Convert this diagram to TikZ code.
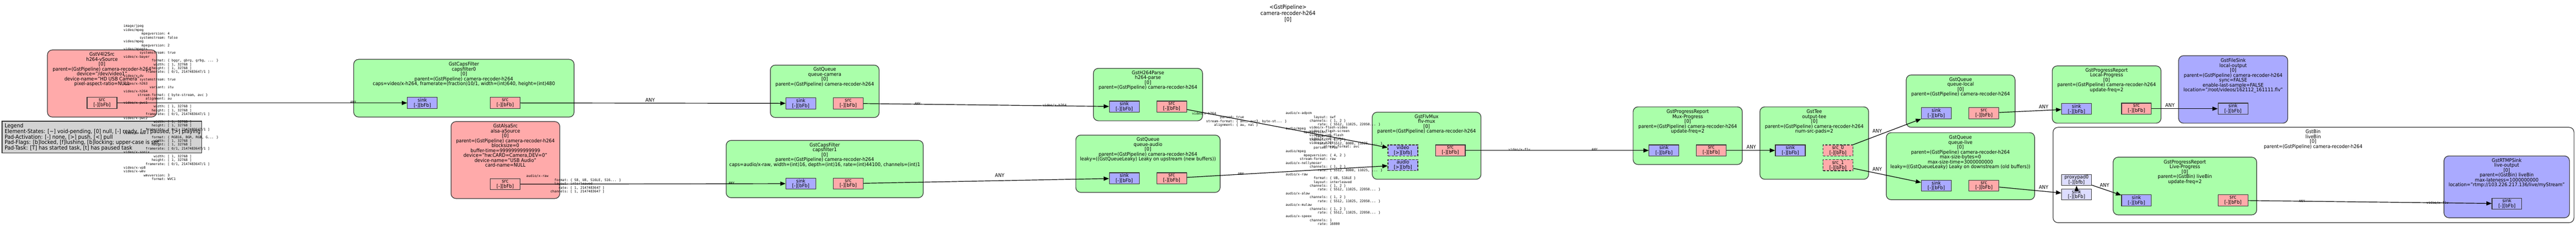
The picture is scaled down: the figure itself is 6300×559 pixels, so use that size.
\documentclass[tikz,border=0pt]{standalone}
\usepackage{fontspec}
\setmainfont[FakeStretch=0.92]{DejaVu Sans}
\newfontfamily\capsmono{DejaVu Sans Mono}
\usetikzlibrary{fit,arrows.meta}

\definecolor{srcfill}{HTML}{FFAAAA}
\definecolor{midfill}{HTML}{AAFFAA}
\definecolor{sinkfill}{HTML}{AAAAFF}
\definecolor{ghostfill}{HTML}{DDDDFF}
\definecolor{legendfill}{HTML}{D3D3D3}

\newcommand{\elemfont}{\fontsize{6.9}{6.83}\selectfont\lineskiplimit=-5pt}
\newcommand{\padfont}{\fontsize{6.9}{7.1}\selectfont\lineskiplimit=-5pt}
\newcommand{\capsfont}{\capsmono\fontsize{4.63}{5.32}\selectfont\lineskiplimit=-5pt}
\newcommand{\titlefont}{\fontsize{7.7}{8.5}\selectfont\lineskiplimit=-5pt}
\newcommand{\legendfont}{\fontsize{7.7}{7.6}\selectfont\lineskiplimit=-5pt}
% one caps field: name right-aligned in 20 columns
\newcommand{\capf}[2]{\makebox[12.04em][r]{#1}:\ #2}

\begin{document}
\begin{tikzpicture}[x=0.02cm, y=-0.02cm,
    element/.style={draw=black!80, line width=0.03cm, rounded corners=0.24cm, inner sep=0},
    pad/.style={draw=black!80, line width=0.03cm, minimum width=1.46cm, minimum height=0.54cm,
      inner sep=0, align=center, font=\padfont},
    srcpad/.style={pad, fill=srcfill},
    sinkpad/.style={pad, fill=sinkfill},
    ghostpad/.style={pad, fill=ghostfill},
    reqpad/.style={dash pattern=on 0.12cm off 0.06cm},
    elabel/.style={font=\elemfont, align=center, inner sep=0, anchor=north},
    capsblock/.style={font=\capsfont, align=left, inner sep=0, anchor=north west},
    capslbl/.style={font=\capsfont, inner sep=0},
    anylbl/.style={font=\elemfont, inner sep=0},
    edge/.style={line width=0.03cm, -{Triangle[length=0.26cm, width=0.2cm]}}]
  \useasboundingbox (0,0) rectangle (6300,559);

  \node[font=\titlefont, align=center, inner sep=0, anchor=north] (title) at (3150,11.2)
    {<GstPipeline>\\camera-recoder-h264\\{}[0]};

  % legend
  \node[draw=black!80, line width=0.03cm, fill=legendfill, inner sep=0, fit={(5,296) (493,374)}] (legend) {};
  \node[font=\legendfont, align=left, inner sep=0, anchor=north west] (legendtxt) at (11,301.8)
    {Legend\\Element-States: [\textasciitilde] void-pending, [0] null, [-] ready, [=] paused, [>] playing\\Pad-Activation: [-] none, [>] push, [<] pull\\Pad-Flags: [b]locked, [f]lushing, [b]locking; upper-case is set\\Pad-Task: [T] has started task, [t] has paused task};

  % element boxes
  \node[element, fill=srcfill, fit={(116,122) (383,286)}] (v4l2) {};
  \node[element, fill=midfill, fit={(865,145) (1404,286)}] (capsf0) {};
  \node[element, fill=srcfill, fit={(1103,297) (1369,485)}] (alsa) {};
  \node[element, fill=midfill, fit={(1884,159) (2150,287)}] (qcamera) {};
  \node[element, fill=midfill, fit={(1776,343) (2258,483)}] (capsf1) {};
  \node[element, fill=midfill, fit={(2674,167) (2941,295)}] (parse) {};
  \node[element, fill=midfill, fit={(2631,330) (2984,470)}] (qaudio) {};
  \node[element, fill=midfill, fit={(3356,274) (3622,438)}] (flvmux) {};
  \node[element, fill=midfill, fit={(3994,261) (4261,402)}] (muxprog) {};
  \node[element, fill=midfill, fit={(4304,261) (4570,438)}] (tee) {};
  \node[element, fill=midfill, fit={(4662,183) (4928,311)}] (qlocal) {};
  \node[element, fill=midfill, fit={(4613,324) (4976,488)}] (qlive) {};
  \node[element, fill=midfill, fit={(5019,161) (5285,301)}] (localprog) {};
  \node[element, fill=sinkfill, fit={(5328,136) (5595,301)}] (localout) {};
  \node[element, fill=white, fit={(5021,311) (6295,544)}] (livebin) {};
  \node[element, fill=midfill, fit={(5168,384) (5519,525)}] (liveprog) {};
  \node[element, fill=sinkfill, fit={(5977,381) (6284,532)}] (liveout) {};

  % element texts
  \node[elabel] (v4l2lbl) at (249.5,127.3) {GstV4l2Src\\h264-vSource\\{}[0]\\parent=(GstPipeline) camera-recoder-h264\\device="/dev/video1"\\device-name="HD USB Camera"\\pixel-aspect-ratio=NULL};
  \node[elabel] (capsf0lbl) at (1134.5,151.3) {GstCapsFilter\\capsfilter0\\{}[0]\\parent=(GstPipeline) camera-recoder-h264\\caps=video/x-h264, framerate=(fraction)10/1, width=(int)640, height=(int)480};
  \node[elabel] (alsalbl) at (1236,302.3) {GstAlsaSrc\\alsa-aSource\\{}[0]\\parent=(GstPipeline) camera-recoder-h264\\blocksize=0\\buffer-time=99999999999999\\device="hw:CARD=Camera,DEV=0"\\device-name="USB Audio"\\card-name=NULL};
  \node[elabel] (qcameralbl) at (2017,164.3) {GstQueue\\queue-camera\\{}[0]\\parent=(GstPipeline) camera-recoder-h264};
  \node[elabel] (capsf1lbl) at (2017,348.3) {GstCapsFilter\\capsfilter1\\{}[0]\\parent=(GstPipeline) camera-recoder-h264\\caps=audio/x-raw, width=(int)16, depth=(int)16, rate=(int)44100, channels=(int)1};
  \node[elabel] (parselbl) at (2807.5,172.3) {GstH264Parse\\h264-parse\\{}[0]\\parent=(GstPipeline) camera-recoder-h264};
  \node[elabel] (qaudiolbl) at (2807.5,335.3) {GstQueue\\queue-audio\\{}[0]\\parent=(GstPipeline) camera-recoder-h264\\leaky=((GstQueueLeaky) Leaky on upstream (new buffers))};
  \node[elabel] (flvmuxlbl) at (3489,279.3) {GstFlvMux\\flv-mux\\{}[0]\\parent=(GstPipeline) camera-recoder-h264};
  \node[elabel] (muxproglbl) at (4127.5,267.3) {GstProgressReport\\Mux-Progress\\{}[0]\\parent=(GstPipeline) camera-recoder-h264\\update-freq=2};
  \node[elabel] (teelbl) at (4437,267.3) {GstTee\\output-tee\\{}[0]\\parent=(GstPipeline) camera-recoder-h264\\num-src-pads=2};
  \node[elabel] (qlocallbl) at (4795,188.9) {GstQueue\\queue-local\\{}[0]\\parent=(GstPipeline) camera-recoder-h264};
  \node[elabel] (qlivelbl) at (4794.5,330.3) {GstQueue\\queue-live\\{}[0]\\parent=(GstPipeline) camera-recoder-h264\\max-size-bytes=0\\max-size-time=3000000000\\leaky=((GstQueueLeaky) Leaky on downstream (old buffers))};
  \node[elabel] (localproglbl) at (5152,166.3) {GstProgressReport\\Local-Progress\\{}[0]\\parent=(GstPipeline) camera-recoder-h264\\update-freq=2};
  \node[elabel] (localoutlbl) at (5461.5,142.3) {GstFileSink\\local-output\\{}[0]\\parent=(GstPipeline) camera-recoder-h264\\sync=FALSE\\enable-last-sample=FALSE\\location="/root/videos/162112\_161111.flv"};
  \node[elabel] (livebinlbl) at (5657,316.3) {GstBin\\liveBin\\{}[0]\\parent=(GstPipeline) camera-recoder-h264};
  \node[elabel] (liveproglbl) at (5343.5,390.3) {GstProgressReport\\Live-Progress\\{}[0]\\parent=(GstBin) liveBin\\update-freq=2};
  \node[elabel] (liveoutlbl) at (6130.5,386.3) {GstRTMPSink\\live-output\\{}[0]\\parent=(GstBin) liveBin\\max-lateness=1000000000\\location="rtmp://103.226.217.136/live/myStream"};

  % pads
  \node[srcpad] (v4l2src) at (249.5,251.5) {src\\{}[-][bFb]};
  \node[sinkpad] (capsf0sink) at (1033,251.5) {sink\\{}[-][bFb]};
  \node[srcpad] (capsf0src) at (1235.5,251.5) {src\\{}[-][bFb]};
  \node[srcpad] (alsasrc) at (1235.5,450) {src\\{}[-][bFb]};
  \node[sinkpad] (qcamerasink) at (1958.5,252.5) {sink\\{}[-][bFb]};
  \node[srcpad] (qcamerasrc) at (2074.5,252.5) {src\\{}[-][bFb]};
  \node[sinkpad] (capsf1sink) at (1958.5,448.5) {sink\\{}[-][bFb]};
  \node[srcpad] (capsf1src) at (2074.5,448.5) {src\\{}[-][bFb]};
  \node[sinkpad] (parsesink) at (2749.5,260.5) {sink\\{}[-][bFb]};
  \node[srcpad] (parsesrc) at (2865.5,260.5) {src\\{}[-][bFb]};
  \node[sinkpad] (qaudiosink) at (2749.5,435.5) {sink\\{}[-][bFb]};
  \node[srcpad] (qaudiosrc) at (2865.5,435.5) {src\\{}[-][bFb]};
  \node[sinkpad, reqpad] (flvvideo) at (3431,367.5) {video\\{}[>][bfb]};
  \node[sinkpad, reqpad] (flvaudio) at (3431,403) {audio\\{}[>][bfb]};
  \node[srcpad] (flvsrc) at (3547,367.5) {src\\{}[-][bFb]};
  \node[sinkpad] (muxprogsink) at (4069.5,367.5) {sink\\{}[-][bFb]};
  \node[srcpad] (muxprogsrc) at (4185,367.5) {src\\{}[-][bFb]};
  \node[sinkpad] (teesink) at (4378.5,367.5) {sink\\{}[-][bFb]};
  \node[srcpad, reqpad] (teesrc0) at (4495,367.5) {src\_0\\{}[-][bFb]};
  \node[srcpad, reqpad] (teesrc1) at (4495,403.5) {src\_1\\{}[-][bFb]};
  \node[sinkpad] (qlocalsink) at (4735.5,276.5) {sink\\{}[-][bFb]};
  \node[srcpad] (qlocalsrc) at (4852,276.5) {src\\{}[-][bFb]};
  \node[sinkpad] (qlivesink) at (4735.5,453.5) {sink\\{}[-][bFb]};
  \node[srcpad] (qlivesrc) at (4852,453.5) {src\\{}[-][bFb]};
  \node[sinkpad] (localprogsink) at (5078.5,266) {sink\\{}[-][bFb]};
  \node[srcpad] (localprogsrc) at (5225,265.5) {src\\{}[-][bFb]};
  \node[sinkpad] (localoutsink) at (5461,265.5) {sink\\{}[-][bFb]};
  \node[ghostpad] (binproxy) at (5078.5,439.5) {proxypad0\\{}[-][bfb]};
  \node[ghostpad] (binsink) at (5078.5,475) {sink\\{}[-][bFb]};
  \node[sinkpad] (liveprogsink) at (5225,489.5) {sink\\{}[-][bFb]};
  \node[srcpad] (liveprogsrc) at (5461,489.5) {src\\{}[-][bFb]};
  \node[sinkpad] (liveoutsink) at (6131,497.5) {sink\\{}[-][bFb]};

  % links
  \draw[edge] (v4l2src) -- (capsf0sink);
  \draw[edge] (capsf0src) -- (qcamerasink);
  \draw[edge] (qcamerasrc) -- (parsesink);
  \draw[edge] (parsesrc) -- (flvvideo);
  \draw[edge] (alsasrc) -- (capsf1sink);
  \draw[edge] (capsf1src) -- (qaudiosink);
  \draw[edge] (qaudiosrc) -- (flvaudio);
  \draw[edge] (flvsrc) -- (muxprogsink);
  \draw[edge] (muxprogsrc) -- (teesink);
  \draw[edge] (teesrc0) -- (qlocalsink);
  \draw[edge] (teesrc1) -- (qlivesink);
  \draw[edge] (qlocalsrc) -- (localprogsink);
  \draw[edge] (localprogsrc) -- (localoutsink);
  \draw[edge] (qlivesrc) -- (binsink);
  \draw[edge] (binsink) -- (binproxy);
  \draw[edge] (binproxy) -- (liveprogsink);
  \draw[edge] (liveprogsrc) -- (liveoutsink);

  % caps
  \node[capsblock] (v4l2caps) at (302,60.2) {image/jpeg\\video/mpeg\\\capf{mpegversion}{4}\\\capf{systemstream}{false}\\video/mpeg\\\capf{mpegversion}{2}\\video/mpegts\\\capf{systemstream}{true}\\video/x-bayer\\\capf{format}{\{ bggr, gbrg, grbg, ... \}}\\\capf{width}{[ 1, 32768 ]}\\\capf{height}{[ 1, 32768 ]}\\\capf{framerate}{[ 0/1, 2147483647/1 ]}\\video/x-dv\\\capf{systemstream}{true}\\video/x-h263\\\capf{variant}{itu}\\video/x-h264\\\capf{stream-format}{\{ byte-stream, avc \}}\\\capf{alignment}{au}\\video/x-pwc1\\\capf{width}{[ 1, 32768 ]}\\\capf{height}{[ 1, 32768 ]}\\\capf{framerate}{[ 0/1, 2147483647/1 ]}\\video/x-pwc2\\\capf{width}{[ 1, 32768 ]}\\\capf{height}{[ 1, 32768 ]}\\\capf{framerate}{[ 0/1, 2147483647/1 ]}\\video/x-raw\\\capf{format}{\{ RGB16, BGR, RGB, G... \}}\\\capf{width}{[ 1, 32768 ]}\\\capf{height}{[ 1, 32768 ]}\\\capf{framerate}{[ 0/1, 2147483647/1 ]}\\video/x-sonix\\\capf{width}{[ 1, 32768 ]}\\\capf{height}{[ 1, 32768 ]}\\\capf{framerate}{[ 0/1, 2147483647/1 ]}\\video/x-vp8\\video/x-wmv\\\capf{wmvversion}{3}\\\capf{format}{WVC1}};
  \node[capsblock] (alsacaps) at (1287,426.7) {audio/x-raw\\\capf{format}{\{ S8, U8, S16LE, S16... \}}\\\capf{layout}{interleaved}\\\capf{rate}{[ 1, 2147483647 ]}\\\capf{channels}{[ 1, 2147483647 ]}};
  \node[capsblock] (parsecaps) at (2915,273.7) {video/x-h264\\\capf{parsed}{true}\\\capf{stream-format}{\{ avc, avc3, byte-st... \}}\\\capf{alignment}{\{ au, nal \}}};
  \node[capsblock] (flvvideocaps) at (3202,307.7) {video/x-flash-video\\video/x-flash-screen\\video/x-vp6-flash\\video/x-vp6-alpha\\video/x-h264\\\capf{stream-format}{avc}};
  \node[capsblock] (flvaudiocaps) at (3144,272.7) {audio/x-adpcm\\\capf{layout}{swf}\\\capf{channels}{\{ 1, 2 \}}\\\capf{rate}{\{ 5512, 11025, 22050... \}}\\audio/mpeg\\\capf{mpegversion}{1}\\\capf{layer}{3}\\\capf{channels}{\{ 1, 2 \}}\\\capf{rate}{\{ 5512, 8000, 11025, ... \}}\\\capf{parsed}{true}\\audio/mpeg\\\capf{mpegversion}{\{ 4, 2 \}}\\\capf{stream-format}{raw}\\audio/x-nellymoser\\\capf{channels}{\{ 1, 2 \}}\\\capf{rate}{\{ 5512, 8000, 11025, ... \}}\\audio/x-raw\\\capf{format}{\{ U8, S16LE \}}\\\capf{layout}{interleaved}\\\capf{channels}{\{ 1, 2 \}}\\\capf{rate}{\{ 5512, 11025, 22050... \}}\\audio/x-alaw\\\capf{channels}{\{ 1, 2 \}}\\\capf{rate}{\{ 5512, 11025, 22050... \}}\\audio/x-mulaw\\\capf{channels}{\{ 1, 2 \}}\\\capf{rate}{\{ 5512, 11025, 22050... \}}\\audio/x-speex\\\capf{channels}{1}\\\capf{rate}{16000}};

  \node[capslbl] (any1) at (864,249.5) {ANY};
  \node[capslbl] (any2) at (2244,253) {ANY};
  \node[capslbl] (h264lbl) at (2579,257) {video/x-h264};
  \node[capslbl] (any3) at (1789,448) {ANY};
  \node[capslbl] (any4) at (3035,425) {ANY};
  \node[capslbl] (flvlbl1) at (3716,366) {video/x-flv};
  \node[capslbl] (any5) at (3900,366) {ANY};
  \node[capslbl] (any6) at (5630,491) {ANY};
  \node[capslbl] (flvlbl2) at (5961,495.5) {video/x-flv};

  \node[anylbl] (anyA) at (1590,244) {ANY};
  \node[anylbl] (anyB) at (2445,429) {ANY};
  \node[anylbl] (anyC) at (4283,359) {ANY};
  \node[anylbl] (anyD) at (4591,320) {ANY};
  \node[anylbl] (anyE) at (4591,413.5) {ANY};
  \node[anylbl] (anyF) at (4998,260.5) {ANY};
  \node[anylbl] (anyG) at (4998,457) {ANY};
  \node[anylbl] (anyH) at (5307,257) {ANY};
  \node[anylbl] (anyI) at (5147,452) {ANY};
\end{tikzpicture}
\end{document}
